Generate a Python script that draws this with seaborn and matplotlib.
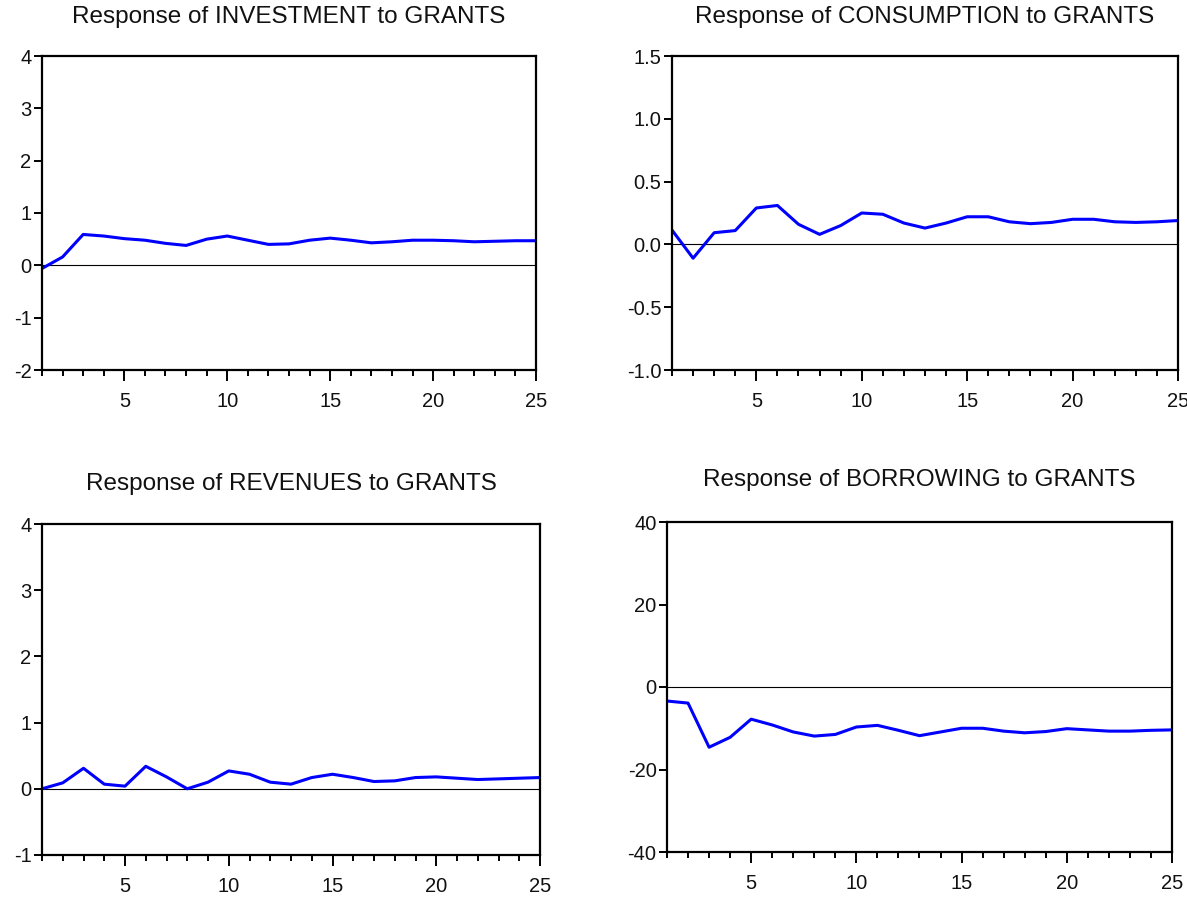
import matplotlib
matplotlib.use("Agg")
import matplotlib.pyplot as plt
import seaborn as sns
import pandas as pd
from matplotlib.ticker import MultipleLocator, FixedLocator

sns.set_theme(style="white")
plt.rcParams['font.family'] = ['Liberation Sans', 'DejaVu Sans']

periods = list(range(1, 26))

investment = [-0.06, 0.16, 0.59, 0.56, 0.51, 0.48, 0.42, 0.38, 0.50, 0.56, 0.48, 0.40, 0.41,
              0.48, 0.52, 0.48, 0.43, 0.45, 0.48, 0.48, 0.47, 0.45, 0.46, 0.47, 0.47]
consumption = [0.114, -0.11, 0.093, 0.11, 0.29, 0.31, 0.16, 0.08, 0.15, 0.25, 0.24, 0.17, 0.13,
               0.17, 0.22, 0.22, 0.18, 0.165, 0.175, 0.20, 0.20, 0.18, 0.175, 0.18, 0.19]
revenues = [0.0, 0.09, 0.31, 0.07, 0.04, 0.34, 0.18, 0.0, 0.10, 0.27, 0.22, 0.10, 0.07,
            0.17, 0.22, 0.17, 0.11, 0.12, 0.17, 0.18, 0.16, 0.14, 0.15, 0.16, 0.17]
borrowing = [-3.4, -3.9, -14.6, -12.2, -7.8, -9.2, -10.9, -11.9, -11.5, -9.7, -9.3, -10.5, -11.8,
             -10.9, -10.0, -10.0, -10.7, -11.1, -10.8, -10.1, -10.4, -10.7, -10.7, -10.5, -10.4]

titles = ["Response of INVESTMENT to GRANTS", "Response of CONSUMPTION to GRANTS",
          "Response of REVENUES to GRANTS", "Response of BORROWING to GRANTS"]
series = [investment, consumption, revenues, borrowing]
ylims = [(-2, 4), (-1.0, 1.5), (-1, 4), (-40, 40)]
ysteps = [1, 0.5, 1, 20]
yfmt = ["{:.0f}", "{:.1f}", "{:.0f}", "{:.0f}"]

W, H = 1187, 901
fig = plt.figure(figsize=(W / 100, H / 100), dpi=100)
boxes = [(42, 536, 56, 370), (672, 1178, 56, 370), (42, 540, 524, 855), (667, 1172, 522, 852)]
title_pads = [24.0, 24.0, 24.5, 26.0]

for i in range(4):
    l, r, t, b = boxes[i]
    ax = fig.add_axes([l / W, 1 - b / H, (r - l) / W, (b - t) / H])
    df = pd.DataFrame({"period": periods, "value": series[i]})
    sns.lineplot(data=df, x="period", y="value", ax=ax, color="#0000FF", linewidth=2.2)
    ax.axhline(0, color="black", linewidth=0.8, zorder=1)
    ax.set_xlim(1, 25)
    ax.set_ylim(*ylims[i])
    ax.set_xlabel("")
    ax.set_ylabel("")
    ax.xaxis.set_major_locator(FixedLocator([5, 10, 15, 20, 25]))
    ax.xaxis.set_minor_locator(MultipleLocator(1))
    lo, hi = ylims[i]
    st = ysteps[i]
    n = int(round((hi - lo) / st))
    yt = [lo + k * st for k in range(n + 1)]
    ax.set_yticks(yt)
    ax.set_yticklabels([yfmt[i].format(v) for v in yt])
    ax.tick_params(axis="both", which="both", direction="out", color="black",
                   width=1.4, labelsize=14.5, labelcolor="#111111")
    ax.tick_params(axis="x", which="major", length=8, pad=7.5)
    ax.tick_params(axis="x", which="minor", length=4.3, bottom=True)
    ax.tick_params(axis="y", which="major", length=5.5, pad=2)
    ax.tick_params(bottom=True, left=True)
    for sp in ax.spines.values():
        sp.set_visible(True)
        sp.set_color("black")
        sp.set_linewidth(1.6)
    ax.set_title(titles[i], fontsize=17.5, pad=title_pads[i], color="#111111")

fig.savefig("out.png", dpi=100, facecolor="white")
